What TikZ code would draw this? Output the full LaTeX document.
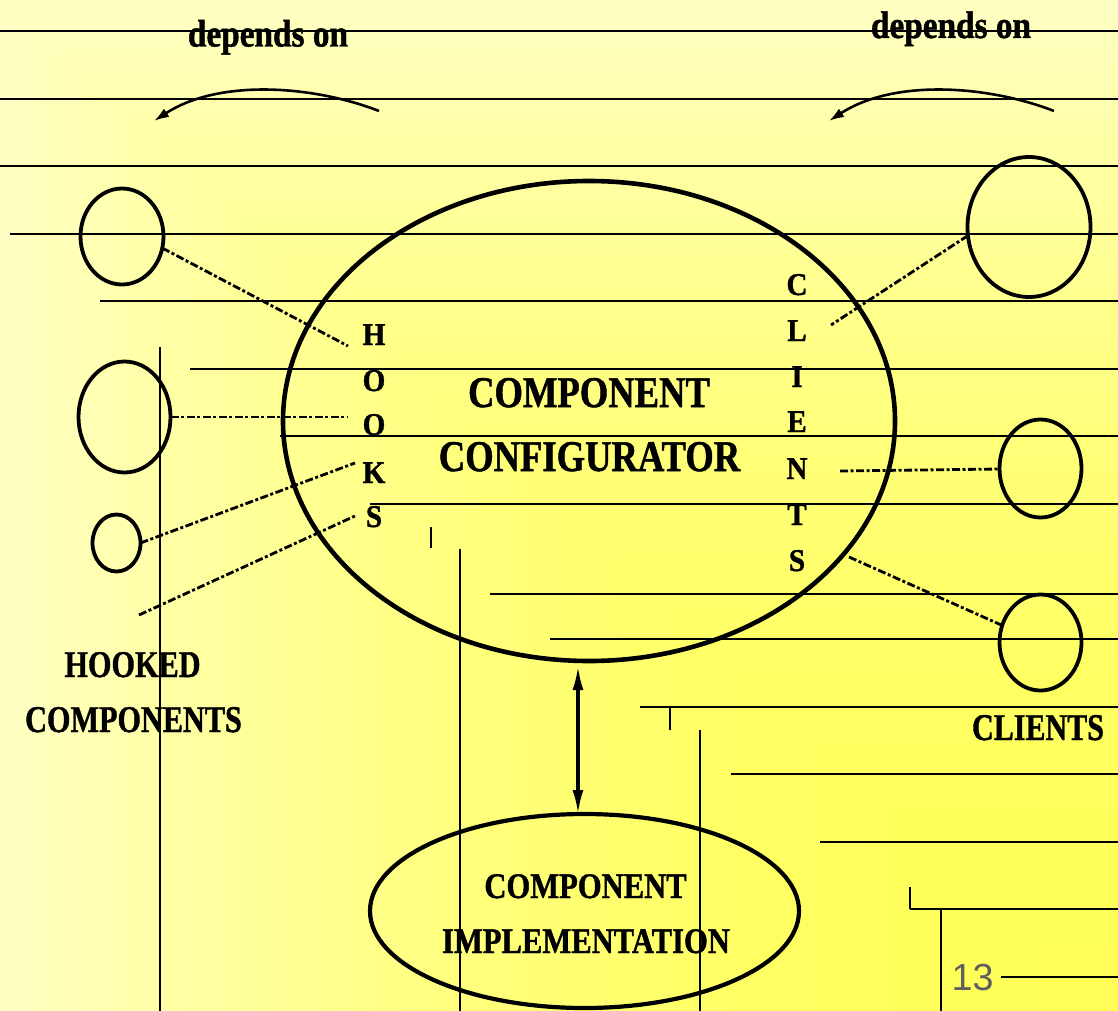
\documentclass[tikz,border=0pt]{standalone}
\usepackage{fontspec}
\usepackage{graphicx}
\setmainfont{Liberation Serif}[BoldFeatures={FakeBold=1.2}]
\newfontfamily\pagenumfont{Liberation Sans}
\usetikzlibrary{shapes.geometric,arrows.meta}
\newcommand\hsq[2]{\scalebox{#1}[1]{#2}}
\definecolor{bgLo}{RGB}{255,255,195}
\definecolor{bgHi}{RGB}{255,255,88}
\definecolor{pagegray}{RGB}{95,95,95}

\begin{document}
\begin{tikzpicture}[x=1pt,y=-1pt,
  bgline/.style={line width=1.2pt},
  blob/.style={ellipse, draw, line width=3.8pt, inner sep=0pt, outer sep=0pt},
  link/.style={line width=2.8pt, dash pattern=on 8pt off 2.5pt on 3pt off 2.5pt},
  letter/.style={anchor=base, inner sep=0pt, font=\fontsize{31.7}{32}\selectfont\bfseries},
  caption/.style={anchor=base, inner sep=0pt, font=\fontsize{#1}{#1}\selectfont\bfseries},
  depends/.style={line width=2.6pt, -{Latex[length=15pt,width=10pt]}},
  dbl/.style={line width=3.2pt, {Latex[length=24pt,width=11pt]}-{Latex[length=24pt,width=11pt]}}
]
\useasboundingbox (0,0) rectangle (1118,1011);

% corner gradient of the slide background
\foreach \k in {0,...,59}{
  \pgfmathsetmacro\s{1-\k/60}
  \pgfmathsetmacro\w{100*(1-\s*\s)}
  \fill[fill=bgHi!\w!bgLo] ({1118*(1-\s)},{1011*(1-\s)}) rectangle (1118,1011);
}

% stepped rule lines
\draw[bgline] (0,31) -- (1118,31);
\draw[bgline] (0,99) -- (1118,99);
\draw[bgline] (0,166) -- (1118,166);
\draw[bgline] (10,234) -- (1118,234);
\draw[bgline] (100,301) -- (1118,301);
\draw[bgline] (190,369) -- (1118,369);
\draw[bgline] (280,436) -- (1118,436);
\draw[bgline] (370,504) -- (1118,504);
\draw[bgline] (490,594) -- (1118,594);
\draw[bgline] (550,639) -- (1118,639);
\draw[bgline] (640,707) -- (1118,707);
\draw[bgline] (731,774) -- (1118,774);
\draw[bgline] (820,842) -- (1118,842);
\draw[bgline] (910,909) -- (1118,909);
\draw[bgline] (1001,977) -- (1118,977);
\draw[bgline] (160,347) -- (160,1011);
\draw[bgline] (431,527) -- (431,548);
\draw[bgline] (460,549) -- (460,1011);
\draw[bgline] (670,707) -- (670,730);
\draw[bgline] (700,730) -- (700,1011);
\draw[bgline] (910,887) -- (910,909);
\draw[bgline] (941,909) -- (941,1011);

% main components
\node[blob, line width=4.6pt, minimum width=612pt, minimum height=480pt] (cfg) at (589,421) {};
\node[blob, line width=4.2pt, minimum width=429pt, minimum height=194pt] (impl) at (584.5,911) {};

\node[caption=43.8] (cfgA) at (589,407) {\hsq{0.835}{COMPONENT}};
\node[caption=43.8] (cfgB) at (589.5,471) {\hsq{0.835}{CONFIGURATOR}};
\node[caption=36] (implA) at (585.5,898) {\hsq{0.85}{COMPONENT}};
\node[caption=36] (implB) at (586,953) {\hsq{0.85}{IMPLEMENTATION}};

% hooked components
\node[blob, minimum width=83pt, minimum height=96pt] (hk1) at (122,236.5) {};
\node[blob, minimum width=92pt, minimum height=111pt] (hk2) at (124.5,417) {};
\node[blob, minimum width=48pt, minimum height=57pt] (hk3) at (116.5,543) {};

% clients
\node[blob, minimum width=123pt, minimum height=140pt] (cl1) at (1029,227) {};
\node[blob, minimum width=82pt, minimum height=98pt] (cl2) at (1040.5,468.5) {};
\node[blob, minimum width=82pt, minimum height=96pt] (cl3) at (1040.5,642.5) {};

% vertical HOOKS
\node[letter] (hH)  at (374,345) {\hsq{0.92}{H}};
\node[letter] (hO1) at (374,391) {\hsq{0.92}{O}};
\node[letter] (hO2) at (374,435) {\hsq{0.92}{O}};
\node[letter] (hK)  at (374,483) {\hsq{0.92}{K}};
\node[letter] (hS)  at (374,527) {\hsq{0.92}{S}};

% vertical CLIENTS
\node[letter] (cC) at (797,295) {\hsq{0.92}{C}};
\node[letter] (cL) at (797,341) {\hsq{0.92}{L}};
\node[letter] (cI) at (797,387) {\hsq{0.92}{I}};
\node[letter] (cE) at (797,432) {\hsq{0.92}{E}};
\node[letter] (cN) at (797,479) {\hsq{0.92}{N}};
\node[letter] (cT) at (797,525) {\hsq{0.92}{T}};
\node[letter] (cS) at (797,571) {\hsq{0.92}{S}};

% group captions
\node[caption=37.8] (hookedA) at (132.5,677) {\hsq{0.80}{HOOKED}};
\node[caption=37.8] (hookedB) at (133.5,732) {\hsq{0.80}{COMPONENTS}};
\node[caption=37.8] (clients) at (1038,740) {\hsq{0.795}{CLIENTS}};

% dependency captions and arrows
\node[caption=38.5] (depL) at (268,46.5) {\hsq{0.865}{depends on}};
\node[caption=38.5] (depR) at (951,38) {\hsq{0.865}{depends on}};

\coordinate (dLs) at (379,111);
\coordinate (dLe) at (154,121);
\coordinate (dRs) at (1054,111);
\coordinate (dRe) at (829,121);
\draw[depends] (dLs) .. controls (315,86) and (220,78) .. (dLe);
\draw[depends] (dRs) .. controls (990,86) and (895,78) .. (dRe);

% hook connectors
\coordinate (eH) at (348,346);
\coordinate (eO) at (348,417);
\coordinate (eK) at (355,463);
\coordinate (eS) at (355,516);
\coordinate (fS) at (139,615);
\draw[link] (hk1.-16) -- (eH);
\draw[link] (hk2.east) -- (eO);
\draw[link] (hk3.east) -- (eK);
\draw[link] (fS) -- (eS);

% client connectors
\coordinate (eL) at (831,325);
\coordinate (eN) at (840,471);
\coordinate (eT) at (849,557);
\draw[link] (cl1.188) -- (eL);
\draw[link] (eN) -- (cl2);
\draw[link] (eT) -- (cl3);

% configurator <-> implementation
\coordinate (ax) at (578,0);
\draw[dbl, shorten <=5pt] (cfg.south -| ax) -- (impl.north -| ax);

% page number
\node[anchor=base, inner sep=0pt, text=pagegray, font=\pagenumfont\fontsize{37.7}{38}\selectfont] (pnum) at (972.5,990) {13};
\end{tikzpicture}
\end{document}
